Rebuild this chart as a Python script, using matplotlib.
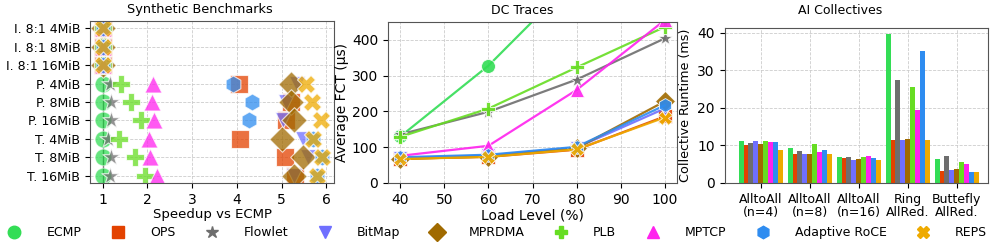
import numpy as np
import matplotlib.pyplot as plt
from matplotlib.lines import Line2D

schemes = ["ECMP", "OPS", "Flowlet", "BitMap", "MPRDMA", "PLB", "MPTCP",
           "Adaptive RoCE", "REPS"]
colors = ["#33dd55", "#e34200", "#6e6e6e", "#6f6fff", "#a06a00", "#66dd22",
          "#ff22ee", "#2e8cf0", "#eeaa00"]
markers = ["o", "s", "*", "v", "D", "P", "^", "h", "X"]

# synthetic benchmarks: speedup vs ECMP, one list per scheme (rows top -> bottom)
rows = ["I. 8:1 4MiB", "I. 8:1 8MiB", "I. 8:1 16MiB", "P. 4MiB", "P. 8MiB",
        "P. 16MiB", "T. 4MiB", "T. 8MiB", "T. 16MiB"]
speedup = {
    "ECMP":          [1.0, 1.0, 1.0, 1.0, 1.0, 1.0, 1.0, 1.0, 1.0],
    "OPS":           [1.0, 1.0, 1.0, 4.05, 5.2, 5.1, 4.07, 5.07, 5.3],
    "Flowlet":       [1.0, 1.0, 1.0, 1.16, 1.2, 1.2, 1.13, 1.2, 1.16],
    "BitMap":        [1.0, 1.0, 1.0, 5.35, 5.1, 5.02, 5.48, 5.6, 5.28],
    "MPRDMA":        [1.0, 1.0, 1.0, 5.22, 5.21, 5.27, 5.0, 5.48, 5.28],
    "PLB":           [1.0, 1.0, 1.0, 1.42, 1.63, 1.87, 1.36, 1.72, 1.94],
    "MPTCP":         [1.0, 1.0, 1.0, 2.13, 2.11, 2.16, 2.03, 2.07, 2.22],
    "Adaptive RoCE": [1.0, 1.0, 1.0, 3.91, 4.33, 4.28, 5.7, 5.9, 5.8],
    "REPS":          [1.0, 1.0, 1.0, 5.55, 5.67, 5.87, 5.7, 5.9, 5.8],
}

# DC traces: average FCT (us) vs load level
load = [40, 60, 80, 100]
fct = {
    "ECMP":          [130, 328, 575, 900],
    "OPS":           [68, 73, 93, 186],
    "Flowlet":       [136, 199, 289, 404],
    "BitMap":        [70, 77, 99, 208],
    "MPRDMA":        [67, 74, 97, 228],
    "PLB":           [129, 208, 323, 436],
    "MPTCP":         [76, 104, 260, 455],
    "Adaptive RoCE": [72, 79, 101, 217],
    "REPS":          [67, 73, 94, 183],
}

# AI collectives: runtime (ms)
collectives = ["AlltoAll\n(n=4)", "AlltoAll\n(n=8)", "AlltoAll\n(n=16)",
               "Ring\nAllRed.", "Buttefly\nAllRed."]
runtime = {
    "ECMP":          [11.2, 9.4, 7.0, 39.6, 6.3],
    "OPS":           [10.0, 7.6, 6.6, 11.5, 3.3],
    "Flowlet":       [10.6, 8.6, 6.8, 27.5, 7.1],
    "BitMap":        [11.2, 7.8, 6.2, 11.5, 3.4],
    "MPRDMA":        [10.4, 7.8, 6.4, 11.6, 3.6],
    "PLB":           [11.2, 10.3, 7.0, 25.5, 5.6],
    "MPTCP":         [10.9, 8.3, 7.2, 19.5, 5.0],
    "Adaptive RoCE": [10.8, 8.7, 6.6, 35.1, 2.9],
    "REPS":          [8.9, 7.7, 6.1, 11.5, 2.9],
}

fig = plt.figure(figsize=(9.97, 2.44), dpi=100)
ax1 = fig.add_axes([90 / 997, 61 / 244, 244 / 997, 162 / 244])
ax2 = fig.add_axes([388 / 997, 61 / 244, 289 / 997, 161 / 244])
ax3 = fig.add_axes([724.5 / 997, 61 / 244, 263.5 / 997, 155 / 244])

grid_kw = dict(color="#cccccc", linestyle="--", linewidth=0.6)
for ax in (ax1, ax2, ax3):
    ax.grid(True, **grid_kw)
    ax.set_axisbelow(True)
    for sp in ax.spines.values():
        sp.set_color("#555555")

# --- synthetic benchmarks
sizes = {"o": 150, "s": 150, "*": 170, "v": 130, "D": 170, "P": 170,
         "^": 150, "h": 150, "X": 170}
ypos = np.arange(len(rows))
ax1.axvline(1, color="#333333", lw=1, zorder=1)
for name, c, m in zip(schemes, colors, markers):
    ax1.scatter(speedup[name], ypos, s=sizes[m], marker=m, color=c, alpha=0.75,
                edgecolors="white", linewidths=0.8, zorder=2)
ax1.set_yticks(ypos)
ax1.set_yticklabels(rows, fontsize=9)
ax1.set_ylim(8.4, -0.4)
ax1.set_xlim(0.72, 6.17)
ax1.set_xticks([1, 2, 3, 4, 5, 6])
ax1.tick_params(axis="x", labelsize=10)
ax1.set_xlabel("Speedup vs ECMP", fontsize=9.5, labelpad=1)

# --- DC traces
for name, c, m in zip(schemes, colors, markers):
    ax2.plot(load, fct[name], color=c, marker=m, markersize=10, lw=1.6,
             markeredgecolor="white", markeredgewidth=0.6, alpha=0.9)
ax2.set_xlim(37.2, 102.8)
ax2.set_ylim(0, 450)
ax2.set_xticks([40, 50, 60, 70, 80, 90, 100])
ax2.tick_params(labelsize=10)
ax2.set_ylabel("Average FCT (µs)", fontsize=10, labelpad=2)
ax2.set_xlabel("Load Level (%)", fontsize=10, labelpad=1)

# --- AI collectives
x = np.arange(len(collectives))
w = 0.1
for j, (name, c) in enumerate(zip(schemes, colors)):
    ax3.bar(x + (j - 4) * w, runtime[name], width=w, color=c)
ax3.set_xticks(x)
ax3.set_xticklabels(collectives, fontsize=9, linespacing=1.0)
ax3.set_xlim(-0.74, 4.64)
ax3.set_ylim(0, 41.3)
ax3.set_yticks([0, 10, 20, 30, 40])
ax3.tick_params(axis="y", labelsize=10)
ax3.set_ylabel("Collective Runtime (ms)", fontsize=9.2, labelpad=4)

# titles
fig.text(200 / 997, 1 - 13.5 / 244, "Synthetic Benchmarks", ha="center", va="baseline", fontsize=9.3)
fig.text(522 / 997, 1 - 13.5 / 244, "DC Traces", ha="center", va="baseline", fontsize=9)
fig.text(840 / 997, 1 - 13.5 / 244, "AI Collectives", ha="center", va="baseline", fontsize=9)

handles = [Line2D([], [], ls="none", marker=m, color=c, markersize=9)
           for c, m in zip(colors, markers)]
fig.legend(handles, schemes, loc="center", bbox_to_anchor=(0.496, 11.5 / 244),
           ncol=9, frameon=False, fontsize=9, handletextpad=1.56,
           columnspacing=1.92, handlelength=2)

fig.savefig("out.png", dpi=100)
